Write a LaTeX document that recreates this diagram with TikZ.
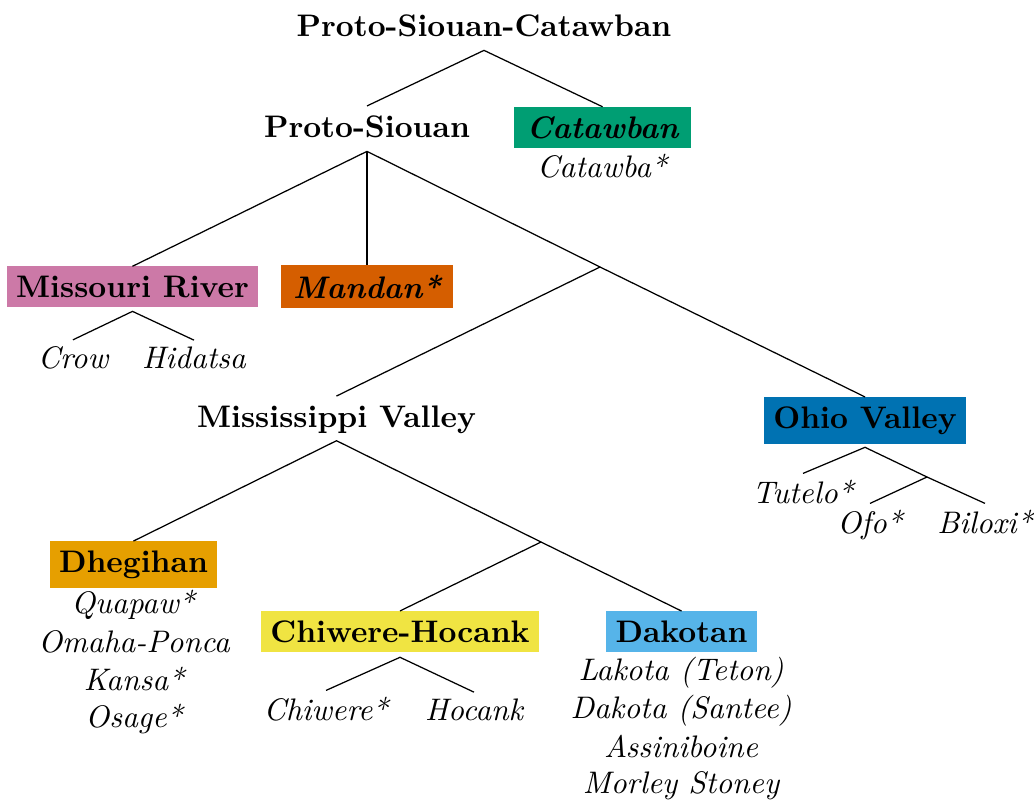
\documentclass[tikz,border=0pt]{standalone}
\usepackage{fontspec}
\usepackage{xcolor}
% Okabe-Ito palette for the subgroup boxes
\definecolor{okGreen}{HTML}{009E73}
\definecolor{okPink}{HTML}{CC79A7}
\definecolor{okVermillion}{HTML}{D55E00}
\definecolor{okBlue}{HTML}{0072B2}
\definecolor{okOrange}{HTML}{E69F00}
\definecolor{okYellow}{HTML}{F0E442}
\definecolor{okSky}{HTML}{56B4E9}
\begin{document}
\begin{tikzpicture}[x=0.321pt,y=-0.321pt,
  every node/.style={outer sep=0pt},
  grp/.style={font=\bfseries, inner sep=3pt, anchor=base},
  fam/.style={grp, fill=#1},
  famit/.style={grp, font=\bfseries\itshape, inner xsep=3.9pt, fill=#1},
  leaf/.style={font=\itshape, inner sep=2pt, anchor=base},
  lang/.style={font=\itshape, inner sep=0pt, anchor=base},
  branch/.style={line width=0.4pt, black}
]
\useasboundingbox (0,0) rectangle (1034,802);

% ---- top levels
\node[grp] (root) at (484,36) {Proto-Siouan-Catawban};
\node[grp] (ps) at (367,137) {Proto-Siouan};
\node[famit=okGreen] (cat) at (602.5,138) {Catawban};
\node[lang] (catawba) at (602,177) {Catawba*};

% ---- Proto-Siouan daughters
\node[fam=okPink] (mr) at (132.5,297) {Missouri River};
\node[famit=okVermillion] (mandan) at (367,298) {Mandan*};
\coordinate (bpA) at (600,267);
\node[leaf] (crow) at (73,368) {Crow};
\node[leaf] (hid) at (194,368) {Hidatsa};

% ---- Mississippi Valley and Ohio Valley
\node[grp] (mv) at (336.5,427) {Mississippi Valley};
\node[fam=okBlue] (ov) at (865,428) {Ohio Valley};
\node[leaf] (tutelo) at (803,503) {Tutelo*};
\coordinate (bpB) at (927,477);
\node[leaf] (ofo) at (870,533) {Ofo*};
\node[leaf] (biloxi) at (985,533) {Biloxi*};

% ---- Mississippi Valley daughters
\node[fam=okOrange] (dh) at (133.5,572) {Dhegihan};
\node[lang] (dh1) at (133,613) {Quapaw*};
\node[lang] (dh2) at (134,652) {Omaha-Ponca};
\node[lang] (dh3) at (134,690) {Kansa*};
\node[lang] (dh4) at (134,727) {Osage*};
\coordinate (bpC) at (541,542);
\node[fam=okYellow] (ch) at (400,642) {Chiwere-Hocank};
\node[leaf] (chiwere) at (326,720) {Chiwere*};
\node[leaf] (hocank) at (474,720) {Hocank};
\node[fam=okSky] (dk) at (681.5,642) {Dakotan};
\node[lang] (dk1) at (681,680) {Lakota (Teton)};
\node[lang] (dk2) at (681,718) {Dakota (Santee)};
\node[lang] (dk3) at (681,757) {Assiniboine};
\node[lang] (dk4) at (681,793) {Morley Stoney};

% ---- branches
\draw[branch] (ps.north) -- ([yshift=-1.5pt]root.south) -- (cat.north);
\draw[branch] ([yshift=-1.5pt]ps.south) -- (mr.north);
\draw[branch] ([yshift=-1.5pt]ps.south) -- (mandan.north);
\draw[branch] ([yshift=-1.5pt]ps.south) -- (bpA);
\draw[branch] (mv.north) -- (bpA) -- (ov.north);
\draw[branch] (crow.north) -- ([yshift=-1.5pt]mr.south) -- (hid.north);
\draw[branch] (tutelo.north) -- ([yshift=-1.2pt]ov.south) -- (bpB);
\draw[branch] (ofo.north) -- (bpB) -- (biloxi.north);
\draw[branch] (dh.north) -- ([yshift=0.6pt]mv.south) -- (bpC);
\draw[branch] (ch.north) -- (bpC) -- (dk.north);
\draw[branch] (chiwere.north) -- ([yshift=-1.8pt]ch.south) -- (hocank.north);
\end{tikzpicture}
\end{document}
